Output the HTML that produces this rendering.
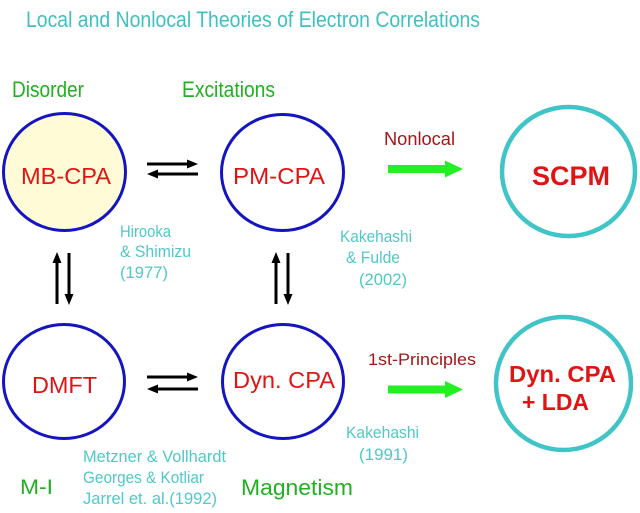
<!DOCTYPE html>
<html><head><meta charset="utf-8"><style>
html,body{margin:0;padding:0;background:#fff;}
svg{display:block;}
text{font-family:"Liberation Sans",Arial,sans-serif;}
</style></head><body>
<svg width="640" height="513" viewBox="0 0 640 513" xmlns="http://www.w3.org/2000/svg">
<rect width="640" height="513" fill="#fff"/>
<text x="26" y="27" font-size="22" fill="#40c0c0" textLength="454" lengthAdjust="spacingAndGlyphs">Local and Nonlocal Theories of Electron Correlations</text>

<text x="12" y="97" font-size="22" fill="#22b022" textLength="72" lengthAdjust="spacingAndGlyphs">Disorder</text>
<text x="182" y="97" font-size="22" fill="#22b022" textLength="93" lengthAdjust="spacingAndGlyphs">Excitations</text>

<!-- circles -->
<ellipse cx="64.5" cy="172" rx="61" ry="58.5" fill="#fffbd6" stroke="#1414c0" stroke-width="3"/>
<ellipse cx="282.5" cy="172.5" rx="61" ry="58" fill="none" stroke="#1414c0" stroke-width="3"/>
<ellipse cx="568.5" cy="171.5" rx="66.5" ry="64.5" fill="none" stroke="#40c4c8" stroke-width="4.5"/>
<ellipse cx="64" cy="381.5" rx="60.5" ry="57" fill="none" stroke="#1414c0" stroke-width="3"/>
<ellipse cx="283" cy="381.5" rx="60.5" ry="57" fill="none" stroke="#1414c0" stroke-width="3"/>
<ellipse cx="563.5" cy="383.5" rx="67.5" ry="66.5" fill="none" stroke="#40c4c8" stroke-width="4.5"/>

<!-- node labels -->
<text x="21" y="184" font-size="23" fill="#e01414" textLength="90" lengthAdjust="spacingAndGlyphs">MB-CPA</text>
<text x="233" y="184" font-size="23" fill="#e01414" textLength="92" lengthAdjust="spacingAndGlyphs">PM-CPA</text>
<text x="532" y="185" font-size="27" font-weight="bold" fill="#e01414" textLength="78" lengthAdjust="spacingAndGlyphs">SCPM</text>
<text x="32" y="393" font-size="23" fill="#e01414" textLength="65" lengthAdjust="spacingAndGlyphs">DMFT</text>
<text x="233" y="388" font-size="23" fill="#e01414" textLength="102" lengthAdjust="spacingAndGlyphs">Dyn. CPA</text>
<text x="509" y="382" font-size="23" font-weight="bold" fill="#e01414" textLength="107" lengthAdjust="spacingAndGlyphs">Dyn. CPA</text>
<text x="522" y="410" font-size="23" font-weight="bold" fill="#e01414" textLength="67" lengthAdjust="spacingAndGlyphs">+ LDA</text>

<!-- arrow labels -->
<text x="384" y="145" font-size="18" fill="#a01818" textLength="71" lengthAdjust="spacingAndGlyphs">Nonlocal</text>
<text x="368" y="365" font-size="17" fill="#a01818" textLength="108" lengthAdjust="spacingAndGlyphs">1st-Principles</text>

<!-- citations -->
<g font-size="17" fill="#50c8c8">
<text x="120" y="237" textLength="51" lengthAdjust="spacingAndGlyphs">Hirooka</text>
<text x="120" y="257" textLength="71" lengthAdjust="spacingAndGlyphs">&amp; Shimizu</text>
<text x="120" y="278" textLength="48" lengthAdjust="spacingAndGlyphs">(1977)</text>
<text x="340" y="242" textLength="72" lengthAdjust="spacingAndGlyphs">Kakehashi</text>
<text x="346" y="263" textLength="54" lengthAdjust="spacingAndGlyphs">&amp; Fulde</text>
<text x="359" y="285" textLength="48" lengthAdjust="spacingAndGlyphs">(2002)</text>
<text x="346" y="438" textLength="73" lengthAdjust="spacingAndGlyphs">Kakehashi</text>
<text x="359" y="460" textLength="49" lengthAdjust="spacingAndGlyphs">(1991)</text>
<text x="83" y="462" textLength="143" lengthAdjust="spacingAndGlyphs">Metzner &amp; Vollhardt</text>
<text x="83" y="483" textLength="121" lengthAdjust="spacingAndGlyphs">Georges &amp; Kotliar</text>
<text x="83" y="504" textLength="134" lengthAdjust="spacingAndGlyphs">Jarrel et. al.(1992)</text>
</g>

<text x="20" y="494" font-size="21" fill="#22b022" textLength="33" lengthAdjust="spacingAndGlyphs">M-I</text>
<text x="241" y="495" font-size="22" fill="#22b022" textLength="112" lengthAdjust="spacingAndGlyphs">Magnetism</text>

<!-- black double arrows -->
<g stroke="#000" stroke-width="3" fill="#000">
<line x1="147" y1="164" x2="189" y2="164"/>
<line x1="157" y1="174" x2="198" y2="174"/>
<line x1="147" y1="377" x2="189" y2="377"/>
<line x1="157" y1="389" x2="198" y2="389"/>
<line x1="57" y1="262" x2="57" y2="304"/>
<line x1="69" y1="253" x2="69" y2="295"/>
<line x1="276" y1="262" x2="276" y2="304"/>
<line x1="288" y1="253" x2="288" y2="295"/>
</g>
<g fill="#000">
<polygon points="198,164 187,159.5 187,168.5"/>
<polygon points="147,174 158,169.5 158,178.5"/>
<polygon points="198,377 187,372.5 187,381.5"/>
<polygon points="147,389 158,384.5 158,393.5"/>
<polygon points="57,252 52.5,263 61.5,263"/>
<polygon points="69,305 64.5,294 73.5,294"/>
<polygon points="276,252 271.5,263 280.5,263"/>
<polygon points="288,305 283.5,294 292.5,294"/>
</g>

<!-- green arrows -->
<polygon points="388,165 445,165 445,160.5 463,169 445,177.5 445,173 388,173" fill="#22f022"/>
<polygon points="388,385.5 445,385.5 445,381 463,389.5 445,398 445,393.5 388,393.5" fill="#22f022"/>
</svg>
</body></html>
